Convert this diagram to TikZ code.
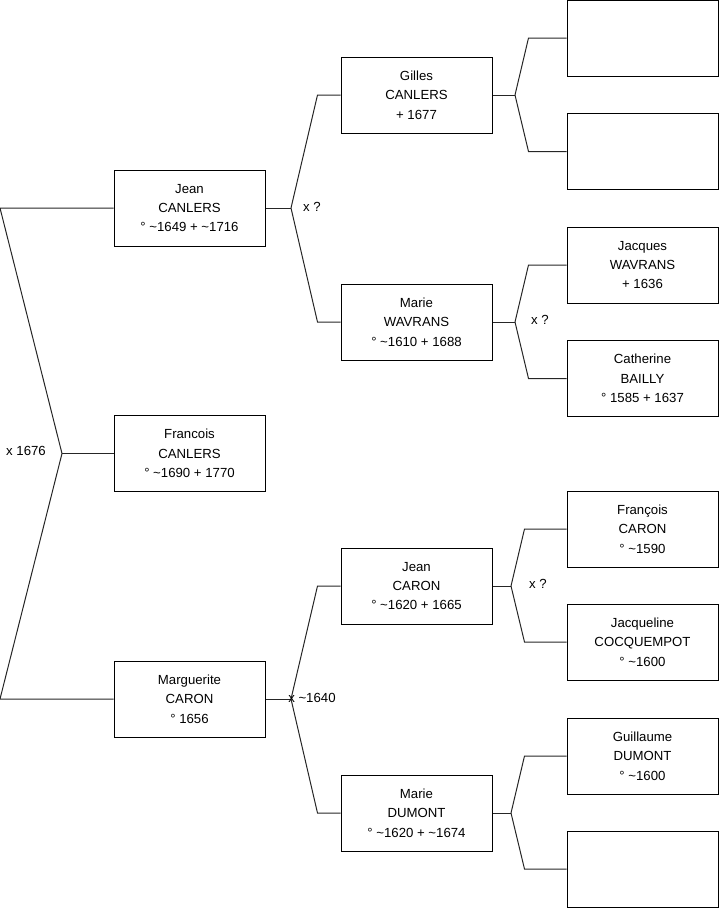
\documentclass[tikz,border=0pt]{standalone}
\usepackage{fontspec}
\setmainfont{Liberation Sans}
\tikzset{
  personne/.style={draw, line width=0.75pt, align=center, inner sep=0pt,
    minimum width=113.25pt, minimum height=57pt,
    font=\fontsize{9.9}{14.6}\selectfont},
  mariage/.style={inner sep=0pt, font=\fontsize{9.9}{11}\selectfont},
  lien/.style={line width=0.75pt, draw=black!85}
}
\newcommand{\env}{\textasciitilde}
\begin{document}
\begin{tikzpicture}[x=0.75pt,y=-0.75pt]
    \useasboundingbox (0,0) rectangle (719,908);
    \coordinate (bord) at (0,0);
    % generation 1
    \node[personne] (francois) at (189.5,453.5) {Francois\\CANLERS\\° \env1690 + 1770};
    % generation 2
    \node[personne] (jean) at (189.5,208) {Jean\\CANLERS\\° \env1649 + \env1716};
    \node[personne] (marguerite) at (189.5,699) {Marguerite\\CARON\\° 1656};
    % generation 3
    \node[personne] (gilles) at (416.5,95) {Gilles\\CANLERS\\+ 1677};
    \node[personne] (mariew) at (416.5,322) {Marie\\WAVRANS\\° \env1610 + 1688};
    \node[personne] (jeanc) at (416.5,586) {Jean\\CARON\\° \env1620 + 1665};
    \node[personne] (maried) at (416.5,813) {Marie\\DUMONT\\° \env1620 + \env1674};
    % generation 4
    \node[personne] (vide1) at (642.5,38) {};
    \node[personne] (vide2) at (642.5,151.5) {};
    \node[personne] (jacques) at (642.5,265) {Jacques\\WAVRANS\\+ 1636};
    \node[personne] (catherine) at (642.5,378.5) {Catherine\\BAILLY\\° 1585 + 1637};
    \node[personne] (francoisc) at (642.5,529) {François\\CARON\\° \env1590};
    \node[personne] (jacqueline) at (642.5,642) {Jacqueline\\COCQUEMPOT\\° \env1600};
    \node[personne] (guillaume) at (642.5,756) {Guillaume\\DUMONT\\° \env1600};
    \node[personne] (vide3) at (642.5,869) {};

    % fourches
    \coordinate (f0) at (62,453.5);
    \draw[lien] (francois.west) -- (f0);
    \draw[lien] (f0) -- (jean.west -| bord) -- (jean.west);
    \draw[lien] (f0) -- (marguerite.west -| bord) -- (marguerite.west);
    \node[mariage] (m0) at (26,451) {x 1676};

    \coordinate (f1) at (291,208);
    \draw[lien] (jean.east) -- (f1);
    \draw[lien] (f1) -- ([xshift=-17.25pt]gilles.west) -- (gilles.west);
    \draw[lien] (f1) -- ([xshift=-17.25pt]mariew.west) -- (mariew.west);
    \node[mariage] (m1) at (312,207) {x ?};

    \coordinate (f2) at (291,699);
    \draw[lien] (marguerite.east) -- (f2);
    \draw[lien] (f2) -- ([xshift=-17.25pt]jeanc.west) -- (jeanc.west);
    \draw[lien] (f2) -- ([xshift=-17.25pt]maried.west) -- (maried.west);
    \node[mariage, anchor=west] (m2) at (288,698) {x \env1640};

    \coordinate (f3) at (515,95);
    \draw[lien] (gilles.east) -- (f3);
    \draw[lien] (f3) -- ([xshift=-28.5pt]vide1.west) -- (vide1.west);
    \draw[lien] (f3) -- ([xshift=-28.5pt]vide2.west) -- (vide2.west);

    \coordinate (f4) at (515,322);
    \draw[lien] (mariew.east) -- (f4);
    \draw[lien] (f4) -- ([xshift=-28.5pt]jacques.west) -- (jacques.west);
    \draw[lien] (f4) -- ([xshift=-28.5pt]catherine.west) -- (catherine.west);
    \node[mariage] (m4) at (540,320) {x ?};

    \coordinate (f5) at (511,586);
    \draw[lien] (jeanc.east) -- (f5);
    \draw[lien] (f5) -- ([xshift=-31.5pt]francoisc.west) -- (francoisc.west);
    \draw[lien] (f5) -- ([xshift=-31.5pt]jacqueline.west) -- (jacqueline.west);
    \node[mariage] (m5) at (538,584) {x ?};

    \coordinate (f6) at (511,813);
    \draw[lien] (maried.east) -- (f6);
    \draw[lien] (f6) -- ([xshift=-31.5pt]guillaume.west) -- (guillaume.west);
    \draw[lien] (f6) -- ([xshift=-31.5pt]vide3.west) -- (vide3.west);
\end{tikzpicture}
\end{document}
